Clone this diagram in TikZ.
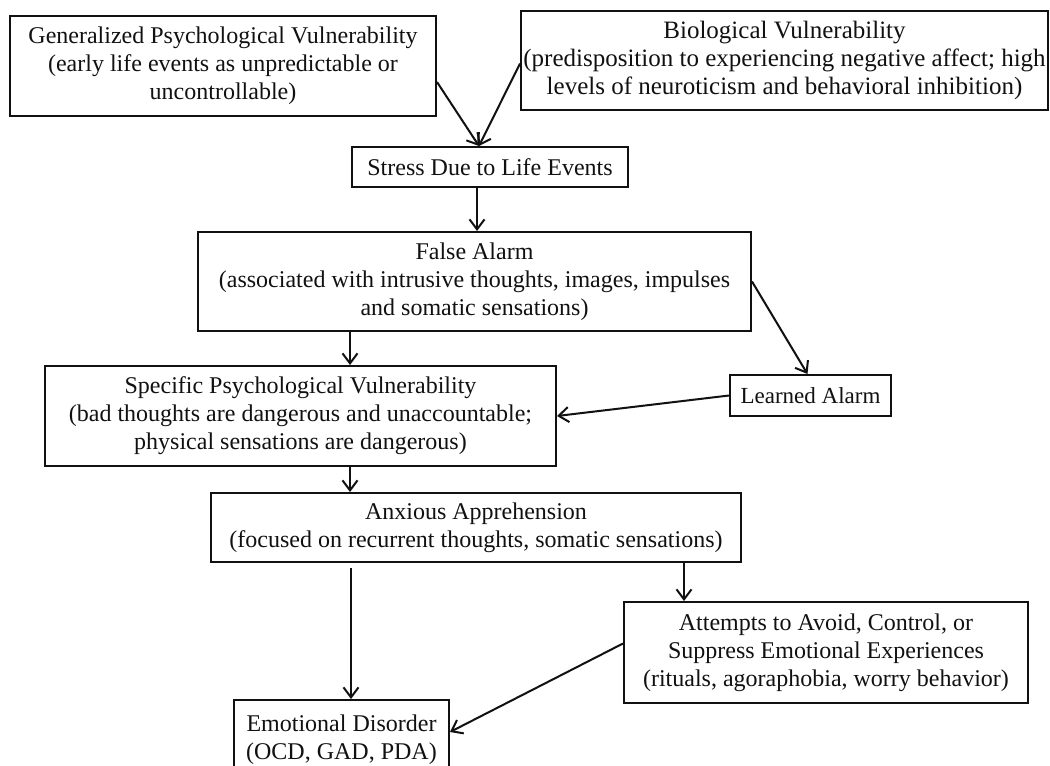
\documentclass[tikz,border=0pt]{standalone}
\usepackage{fontspec}
\setmainfont{Liberation Serif}
\usetikzlibrary{arrows.meta}
\definecolor{ink}{HTML}{111111}
\tikzset{
  box/.style={draw=ink, line width=2pt, rectangle, inner sep=0pt, align=center, text=ink,
    font=\fontsize{24}{28}\selectfont},
  arr/.style={draw=ink, line width=2pt, -{Straight Barb[length=10pt,width=15pt,line width=2pt]}}
}
\begin{document}
\begin{tikzpicture}[x=1pt,y=-1pt]
\path[use as bounding box, clip] (0,0) rectangle (1050,766);
\fill[white] (0,0) rectangle (1050,766);
\node[box, minimum width=426pt, minimum height=100pt] (gpv) at (223,66)
  {Generalized Psychological Vulnerability\\(early life events as unpredictable or\\uncontrollable)};
\node[box, minimum width=527pt, minimum height=99pt, font=\fontsize{25}{28}\selectfont] (bv) at (784.5,60.5)
  {Biological Vulnerability\\(predisposition to experiencing negative affect; high\\levels of neuroticism and behavioral inhibition)};
\node[box, minimum width=276pt, minimum height=40pt] (st) at (490,167)
  {Stress Due to Life Events};
\node[box, minimum width=553pt, minimum height=99pt] (fa) at (474.5,281.5)
  {False Alarm\\(associated with intrusive thoughts, images, impulses\\and somatic sensations)};
\node[box, minimum width=511pt, minimum height=100pt] (spv) at (300.5,416)
  {Specific Psychological Vulnerability\\(bad thoughts are dangerous and unaccountable;\\physical sensations are dangerous)};
\node[box, minimum width=161pt, minimum height=41pt, font=\fontsize{23}{28}\selectfont] (la) at (810.5,395.5)
  {Learned Alarm};
\node[box, minimum width=530pt, minimum height=69pt] (aa) at (476,527.5)
  {Anxious Apprehension\\(focused on recurrent thoughts, somatic sensations)};
\node[box, minimum width=404pt, minimum height=101pt] (att) at (826,652.5)
  {Attempts to Avoid, Control, or\\Suppress Emotional Experiences\\(rituals, agoraphobia, worry behavior)};
\node[box, minimum width=215pt, minimum height=80pt] (ed) at (341.5,740)
  {Emotional Disorder\\(OCD, GAD, PDA)};

\coordinate (stin) at ([xshift=-11pt]st.north);
\draw[arr] ([yshift=-16pt]gpv.east) -- (stin);
\draw[arr] ([yshift=-3pt]bv.west) -- (stin);
\draw[arr] ([xshift=-13pt]st.south) -- ([xshift=-13pt]st.south |- fa.north);
\draw[arr] (fa.south -| 350,0) -- (spv.north -| 350,0);
\draw[arr] (fa.east) -- ([xshift=-3pt]la.north);
\draw[arr] (la.west) -- (spv.east);
\draw[arr] (spv.south -| 350,0) -- (aa.north -| 350,0);
\draw[arr] ([yshift=-5pt]aa.south -| 351,0) -- (ed.north -| 351,0);
\draw[arr] (aa.south -| 684,0) -- (att.north -| 684,0);
\draw[arr] ([yshift=9pt]att.west) -- ([yshift=8pt]ed.east);
\end{tikzpicture}
\end{document}
